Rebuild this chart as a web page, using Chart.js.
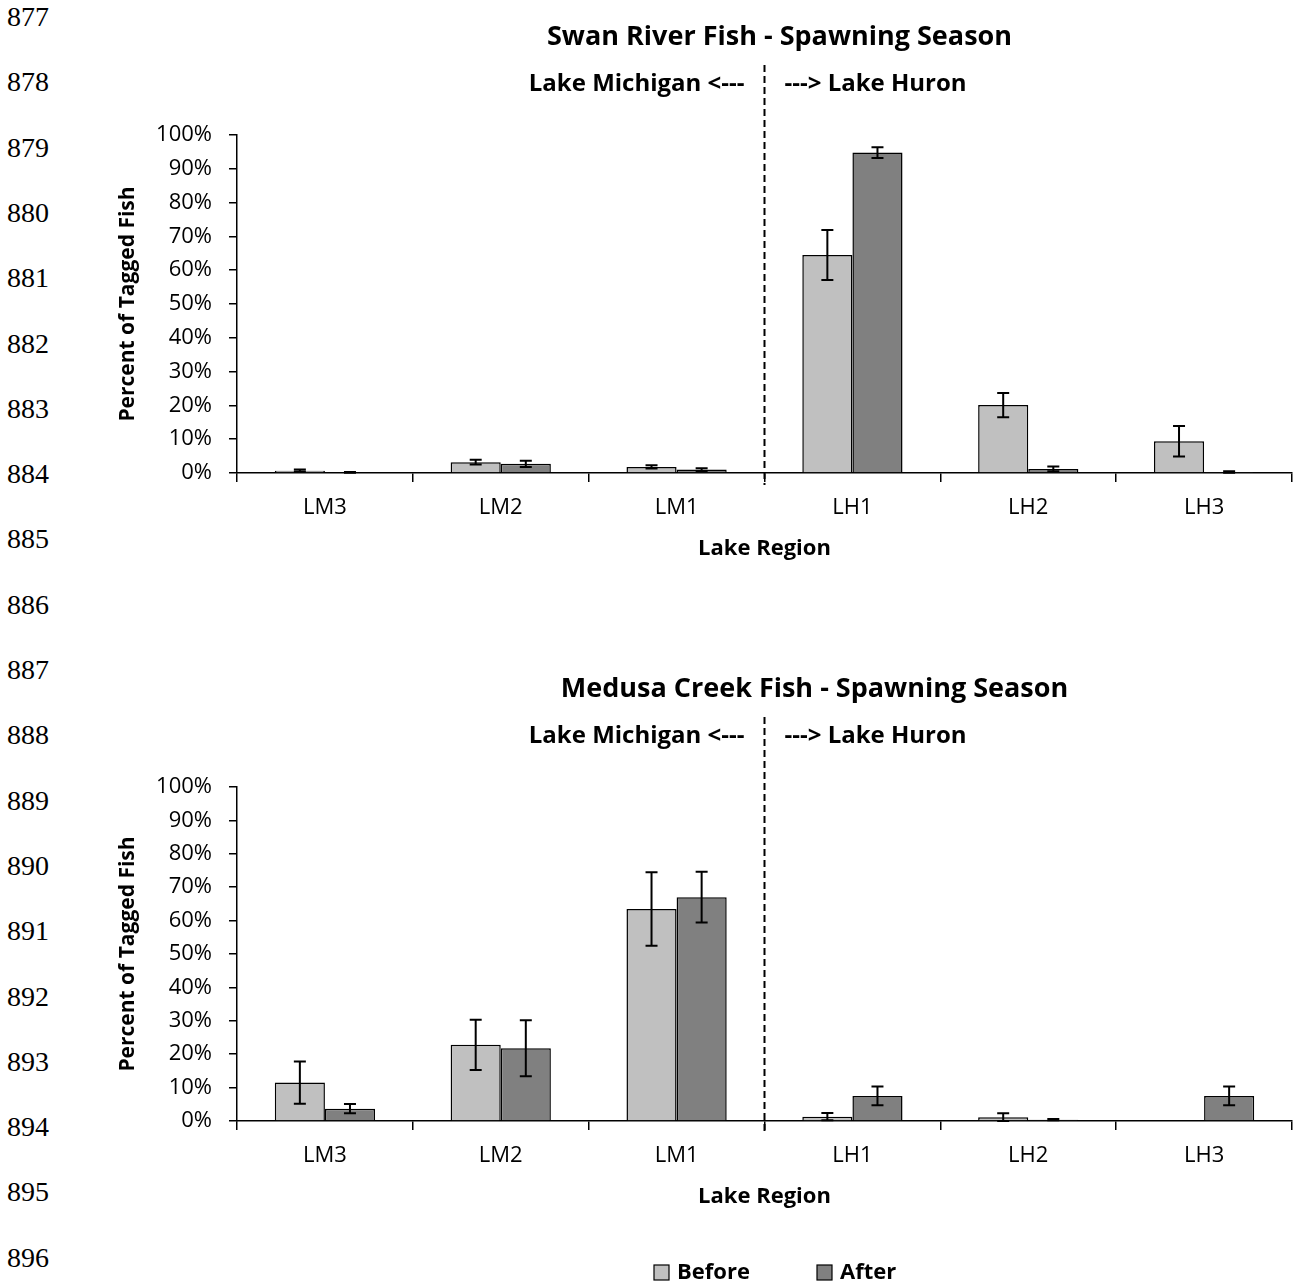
<!DOCTYPE html>
<html>
<head>
<meta charset="utf-8">
<script src="https://cdn.jsdelivr.net/npm/chart.js@4.4.0/dist/chart.umd.min.js"></script>
<style>
  body { margin: 0; background: #fff; width: 1293px; height: 1285px; position: relative; overflow: hidden; }
  .ln { position: absolute; left: 7px; font-family: "Liberation Serif", serif; font-size: 28px; line-height: 1; color: #000; }
  canvas { position: absolute; left: 0; }
  #swan { top: 0; }
  #medusa { top: 640px; }
</style>
</head>
<body>
<div id="lines"></div>
<canvas id="swan" width="1293" height="580"></canvas>
<canvas id="medusa" width="1293" height="645"></canvas>
<script>
// data (percent of tagged fish)
var regions = ['LM3', 'LM2', 'LM1', 'LH1', 'LH2', 'LH3'];
var swanBefore    = [0.7, 3.2, 1.8, 64.5, 20.1, 9.4];
var swanBeforeErr = [0.3, 0.7, 0.5, 7.4, 3.6, 4.5];
var swanAfter     = [0.2, 2.7, 1.0, 94.8, 1.2, 0.3];
var swanAfterErr  = [0.1, 0.9, 0.4, 1.6, 0.7, 0.2];
var medusaBefore    = [11.5, 22.8, 63.5, 1.3, 1.1, 0];
var medusaBeforeErr = [6.3, 7.5, 11.0, 1.1, 1.2, 0];
var medusaAfter     = [3.7, 21.8, 67.0, 7.5, 0.4, 7.5];
var medusaAfterErr  = [1.4, 8.4, 7.6, 2.8, 0.2, 2.8];
var yTicks = [0, 10, 20, 30, 40, 50, 60, 70, 80, 90, 100];
var lineNumbers = [877, 878, 879, 880, 881, 882, 883, 884, 885, 886, 887, 888, 889, 890, 891, 892, 893, 894, 895, 896];

// document line numbers down the left margin
var lines = document.getElementById('lines');
lineNumbers.forEach(function (n, i) {
  var d = document.createElement('div');
  d.className = 'ln';
  d.textContent = n;
  d.style.top = (3 + i * 65.3) + 'px';
  lines.appendChild(d);
});

var FONT = '"Open Sans", sans-serif';

// error bars + lake divider + titles + legend
var extras = {
  id: 'extras',
  afterDatasetsDraw: function (chart) {
    var ctx = chart.ctx, y = chart.scales.y, x = chart.scales.x, area = chart.chartArea;
    var o = chart.options.plugins.extras;
    ctx.save();
    ctx.strokeStyle = '#000';
    ctx.lineWidth = 2;
    chart.data.datasets.forEach(function (ds, i) {
      var meta = chart.getDatasetMeta(i);
      meta.data.forEach(function (bar, j) {
        var e = ds.errors[j];
        if (!e) return;
        var v = ds.data[j];
        var top = y.getPixelForValue(v + e);
        var bot = y.getPixelForValue(Math.max(v - e, 0));
        ctx.beginPath();
        ctx.moveTo(bar.x, top); ctx.lineTo(bar.x, bot);
        ctx.moveTo(bar.x - 6, top); ctx.lineTo(bar.x + 6, top);
        ctx.moveTo(bar.x - 6, bot); ctx.lineTo(bar.x + 6, bot);
        ctx.stroke();
      });
    });

    // dashed divider between Lake Michigan and Lake Huron regions
    var mid = (x.getPixelForValue(2) + x.getPixelForValue(3)) / 2;
    ctx.setLineDash([7, 4]);
    ctx.lineWidth = 2;
    ctx.beginPath();
    ctx.moveTo(mid, area.top - 70);
    ctx.lineTo(mid, area.bottom + 12);
    ctx.stroke();
    ctx.setLineDash([]);

    ctx.fillStyle = '#000';
    ctx.textBaseline = 'middle';
    ctx.font = 'bold 27px ' + FONT;
    ctx.textAlign = 'center';
    ctx.fillText(o.title, mid + o.titleShift, area.top - 98);
    ctx.font = 'bold 24px ' + FONT;
    ctx.textAlign = 'right';
    ctx.fillText('Lake Michigan <---', mid - 20, area.top - 51);
    ctx.textAlign = 'left';
    ctx.fillText('---> Lake Huron', mid + 20, area.top - 51);

    if (o.legend) {
      var lx = o.legendX, ly = area.bottom + o.legendDy;
      ctx.font = 'bold 22px ' + FONT;
      chart.data.datasets.forEach(function (ds) {
        ctx.fillStyle = ds.backgroundColor;
        ctx.fillRect(lx, ly - 7, 15, 15);
        ctx.lineWidth = 1.2;
        ctx.strokeStyle = '#000';
        ctx.strokeRect(lx, ly - 7, 15, 15);
        ctx.fillStyle = '#000';
        ctx.fillText(ds.label, lx + 23, ly + 1);
        lx += 163;
      });
    }
    ctx.restore();
  }
};

function makeChart(id, title, titleShift, before, beforeErr, after, afterErr, padTop, padBottom, legend) {
  var ctx = document.getElementById(id).getContext('2d');
  return new Chart(ctx, {
    type: 'bar',
    data: {
      labels: regions,
      datasets: [{
        label: 'Before',
        data: before,
        errors: beforeErr,
        backgroundColor: '#c0c0c0',
        borderColor: '#000',
        borderWidth: 1.5
      }, {
        label: 'After',
        data: after,
        errors: afterErr,
        backgroundColor: '#808080',
        borderColor: '#000',
        borderWidth: 1.5
      }]
    },
    options: {
      responsive: false,
      animation: false,
      layout: { padding: { left: 115, right: 1, top: padTop, bottom: padBottom } },
      datasets: { bar: { categoryPercentage: 0.57, barPercentage: 1 } },
      scales: {
        x: {
          afterFit: function (s) { s.height = 107; },
          grid: { display: true, drawOnChartArea: false, color: '#000', lineWidth: 1.5, tickLength: 9 },
          border: { color: '#000', width: 1.5 },
          ticks: { color: '#000', font: { family: FONT, size: 22 }, padding: 13, maxRotation: 0 },
          title: { display: true, text: 'Lake Region', color: '#000', font: { family: FONT, size: 22, weight: 'bold' }, padding: { top: 0, bottom: 18 } }
        },
        y: {
          min: 0, max: 100,
          afterFit: function (s) { s.width = 122; },
          afterBuildTicks: function (s) { s.ticks = yTicks.map(function (v) { return { value: v }; }); },
          grid: { display: true, drawOnChartArea: false, color: '#000', lineWidth: 1.5, tickLength: 8 },
          border: { color: '#000', width: 1.5 },
          ticks: { color: '#000', font: { family: FONT, size: 22 }, padding: 17, callback: function (v) { return v + '%'; } },
          title: { display: true, text: 'Percent of Tagged Fish', color: '#000', font: { family: FONT, size: 21, weight: 'bold' }, padding: { top: 0, bottom: 0 } }
        }
      },
      plugins: {
        legend: { display: false },
        tooltip: { enabled: false },
        extras: { title: title, titleShift: titleShift, legend: legend, legendX: 654, legendDy: 151 }
      }
    },
    plugins: [extras]
  });
}

makeChart('swan', 'Swan River Fish - Spawning Season', 15, swanBefore, swanBeforeErr, swanAfter, swanAfterErr, 135, 0, false);
makeChart('medusa', 'Medusa Creek Fish - Spawning Season', 50, medusaBefore, medusaBeforeErr, medusaAfter, medusaAfterErr, 147, 57, true);
</script>
</body>
</html>
